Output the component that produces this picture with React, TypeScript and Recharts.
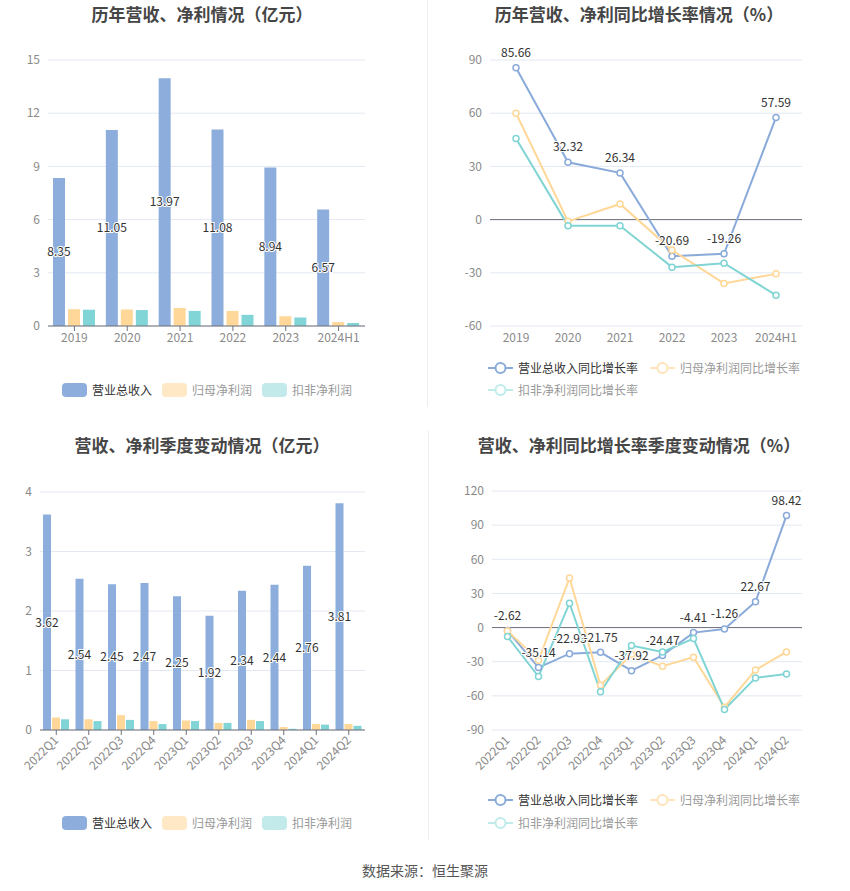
import React from 'react';
import { BarChart, Bar, LineChart, Line, XAxis, YAxis, CartesianGrid, LabelList, ReferenceLine } from 'recharts';

const years = ['2019', '2020', '2021', '2022', '2023', '2024H1'];
const yearRevenue = [8.35, 11.05, 13.97, 11.08, 8.94, 6.57];
const yearNetProfit = [0.95, 0.93, 1.02, 0.85, 0.55, 0.22];
const yearDeducted = [0.92, 0.9, 0.85, 0.63, 0.48, 0.17];
const yearRevenueGrowth = [85.66, 32.32, 26.34, -20.69, -19.26, 57.59];
const yearNetGrowth = [60.0, -1.0, 8.8, -17.2, -36.0, -30.6];
const yearDeductedGrowth = [45.7, -3.4, -3.4, -26.8, -24.6, -42.6];

const quarters = ['2022Q1', '2022Q2', '2022Q3', '2022Q4', '2023Q1', '2023Q2', '2023Q3', '2023Q4', '2024Q1', '2024Q2'];
const qRevenue = [3.62, 2.54, 2.45, 2.47, 2.25, 1.92, 2.34, 2.44, 2.76, 3.81];
const qNetProfit = [0.21, 0.18, 0.25, 0.15, 0.16, 0.12, 0.17, 0.05, 0.1, 0.1];
const qDeducted = [0.18, 0.15, 0.17, 0.1, 0.15, 0.12, 0.15, 0.02, 0.09, 0.07];
const qRevenueGrowth = [-2.62, -35.14, -22.93, -21.75, -37.92, -24.47, -4.41, -1.26, 22.67, 98.42];
const qNetGrowth = [-3.0, -28.7, 43.6, -50.6, -23.7, -34.0, -26.0, -70.0, -37.2, -21.4];
const qDeductedGrowth = [-7.9, -43.0, 21.4, -56.5, -15.8, -21.4, -9.7, -72.0, -44.2, -40.7];

const yearTicks = [0, 3, 6, 9, 12, 15];
const yearGrowthTicks = [-60, -30, 0, 30, 60, 90];
const qTicks = [0, 1, 2, 3, 4];
const qGrowthTicks = [-90, -60, -30, 0, 30, 60, 90, 120];

const barLegendNames = ['营业总收入', '归母净利润', '扣非净利润'];
const lineLegendNames = ['营业总收入同比增长率', '归母净利润同比增长率', '扣非净利润同比增长率'];

const yearBarData = years.map((name, i) => ({ name, rev: yearRevenue[i], net: yearNetProfit[i], ded: yearDeducted[i] }));
const yearLineData = years.map((name, i) => ({ name, rev: yearRevenueGrowth[i], net: yearNetGrowth[i], ded: yearDeductedGrowth[i] }));
const qBarData = quarters.map((name, i) => ({ name, rev: qRevenue[i], net: qNetProfit[i], ded: qDeducted[i] }));
const qLineData = quarters.map((name, i) => ({ name, rev: qRevenueGrowth[i], net: qNetGrowth[i], ded: qDeductedGrowth[i] }));

const FONT = '"Noto Sans CJK SC", "Noto Sans", sans-serif';
const BLUE = '#8DAEDC';
const ORANGE = '#FFD899';
const TEAL = '#82D5D7';
const LBLUE = '#8AABDA';
const LORANGE = '#FFD797';
const LTEAL = '#80D4D4';
const GRID = '#E3E8F2';
const AXIS = '#6E7079';
const TICK = '#8a8a8a';

const tickStyle = { fill: TICK, fontSize: 12, fontFamily: FONT };

const BarValueLabel = (props: any) => {
  const { x, y, width, height, value } = props;
  return (
    <text x={x + width / 2} y={y + height / 2} dy="0.35em" textAnchor="middle" fontSize={12} fontFamily={FONT}
      fill="#333" stroke="#fff" strokeWidth={2} paintOrder="stroke">{Number(value).toFixed(2)}</text>
  );
};

const LineValueLabel = (props: any) => {
  const { x, y, value } = props;
  return (
    <text x={x} y={y - 15} dy="0.35em" textAnchor="middle" fontSize={12} fontFamily={FONT}
      fill="#333" stroke="#fff" strokeWidth={2} paintOrder="stroke">{Number(value).toFixed(2)}</text>
  );
};

const RotTick = (props: any) => {
  const { x, y, payload } = props;
  return (
    <text x={x} y={y} dy="0.35em" textAnchor="end" fontSize={12} fontFamily={FONT} fill={TICK}
      transform={`rotate(-45 ${x} ${y})`}>{payload.value}</text>
  );
};

const Title = ({ text, cx, top }: { text: string; cx: number; top: number }) => (
  <div style={{ position: 'absolute', left: cx - 200, width: 400, top, textAlign: 'center', fontFamily: FONT,
    fontSize: 17, fontWeight: 700, color: '#464646', lineHeight: '24px', whiteSpace: 'nowrap' }}>{text}</div>
);

const BarLegend = ({ top }: { top: number }) => {
  const icons = [BLUE, '#FFE8C6', '#C2EAEB'];
  const colors = ['#333', '#999', '#999'];
  const xs = [62, 162, 262];
  return (
    <>
      {barLegendNames.map((n, i) => (
        <div key={n} style={{ position: 'absolute', left: xs[i], top: top - 7, height: 14, display: 'flex', alignItems: 'center' }}>
          <div style={{ width: 25, height: 14, borderRadius: 4, background: icons[i] }} />
          <span style={{ marginLeft: 5, fontSize: 12, fontFamily: FONT, color: colors[i], lineHeight: '14px', whiteSpace: 'nowrap' }}>{n}</span>
        </div>
      ))}
    </>
  );
};

const LineIcon = ({ color }: { color: string }) => (
  <svg width={25} height={14} style={{ display: 'block' }}>
    <line x1={0} y1={7} x2={25} y2={7} stroke={color} strokeWidth={2} />
    <circle cx={12.5} cy={7} r={5} fill="#fff" stroke={color} strokeWidth={2} />
  </svg>
);

const LineLegend = ({ left, top1, top2 }: { left: number; top1: number; top2: number }) => {
  const icons = [LBLUE, '#FFE3B9', '#BFEBEB'];
  const colors = ['#333', '#999', '#999'];
  const pos = [
    { x: left, y: top1 },
    { x: left + 162, y: top1 },
    { x: left, y: top2 },
  ];
  return (
    <>
      {lineLegendNames.map((n, i) => (
        <div key={n} style={{ position: 'absolute', left: pos[i].x, top: pos[i].y - 7, height: 14, display: 'flex', alignItems: 'center' }}>
          <LineIcon color={icons[i]} />
          <span style={{ marginLeft: 5, fontSize: 12, fontFamily: FONT, color: colors[i], lineHeight: '14px', whiteSpace: 'nowrap' }}>{n}</span>
        </div>
      ))}
    </>
  );
};

const dotStyle = (color: string) => ({ r: 3, fill: '#fff', stroke: color, strokeWidth: 1.5 });

export default function App() {
  return (
    <div style={{ position: 'absolute', left: 0, top: 0, width: 850, height: 891, background: '#fff', overflow: 'hidden' }}>
      {/* dividers */}
      <div style={{ position: 'absolute', left: 427, top: 0, width: 1, height: 407, background: '#EEEEEE' }} />
      <div style={{ position: 'absolute', left: 428, top: 430, width: 1, height: 410, background: '#EEEEEE' }} />

      {/* Chart 1 */}
      <Title text="历年营收、净利情况（亿元）" cx={202} top={2} />
      <div style={{ position: 'absolute', left: 0, top: 0 }}>
        <BarChart width={420} height={410} data={yearBarData} margin={{ top: 60, right: 55, left: 0, bottom: 54 }} barSize={12} barGap={3}>
          <CartesianGrid vertical={false} stroke={GRID} />
          <XAxis dataKey="name" height={30} axisLine={{ stroke: AXIS }} tickLine={{ stroke: AXIS }} tickSize={5} tick={tickStyle} interval={0} />
          <YAxis width={48} domain={[0, 15]} ticks={yearTicks} axisLine={false} tickLine={false} tickSize={0} tickMargin={8} tick={tickStyle} />
          <Bar dataKey="rev" fill={BLUE} isAnimationActive={false}>
            <LabelList dataKey="rev" content={BarValueLabel} />
          </Bar>
          <Bar dataKey="net" fill={ORANGE} isAnimationActive={false} />
          <Bar dataKey="ded" fill={TEAL} isAnimationActive={false} />
        </BarChart>
      </div>
      <BarLegend top={390} />

      {/* Chart 2 */}
      <Title text="历年营收、净利同比增长率情况（%）" cx={639} top={2} />
      <div style={{ position: 'absolute', left: 425, top: 0 }}>
        <LineChart width={425} height={410} data={yearLineData} margin={{ top: 60, right: 48, left: 0, bottom: 54 }}>
          <CartesianGrid vertical={false} stroke={GRID} />
          <XAxis dataKey="name" height={30} axisLine={false} tickLine={false} tickSize={5} tick={tickStyle} interval={0} padding={{ left: 26, right: 26 }} />
          <YAxis width={65} domain={[-60, 90]} ticks={yearGrowthTicks} axisLine={false} tickLine={false} tickSize={0} tickMargin={8} tick={tickStyle} />
          <ReferenceLine y={0} stroke={AXIS} strokeWidth={1} />
          <Line dataKey="rev" stroke={LBLUE} strokeWidth={2} dot={dotStyle(LBLUE)} isAnimationActive={false}>
            <LabelList dataKey="rev" content={LineValueLabel} />
          </Line>
          <Line dataKey="net" stroke={LORANGE} strokeWidth={2} dot={dotStyle(LORANGE)} isAnimationActive={false} />
          <Line dataKey="ded" stroke={LTEAL} strokeWidth={2} dot={dotStyle(LTEAL)} isAnimationActive={false} />
        </LineChart>
      </div>
      <LineLegend left={488} top1={368} top2={390} />

      {/* Chart 3 */}
      <Title text="营收、净利季度变动情况（亿元）" cx={202} top={433} />
      <div style={{ position: 'absolute', left: 0, top: 420 }}>
        <BarChart width={420} height={420} data={qBarData} margin={{ top: 72, right: 55, left: 0, bottom: 60 }} barSize={8} barGap={1}>
          <CartesianGrid vertical={false} stroke={GRID} />
          <XAxis dataKey="name" height={50} axisLine={{ stroke: AXIS }} tickLine={{ stroke: AXIS }} tickSize={5} tickMargin={3} tick={RotTick} interval={0} />
          <YAxis width={40} domain={[0, 4]} ticks={qTicks} axisLine={false} tickLine={false} tickSize={0} tickMargin={8} tick={tickStyle} />
          <Bar dataKey="rev" fill={BLUE} isAnimationActive={false}>
            <LabelList dataKey="rev" content={BarValueLabel} />
          </Bar>
          <Bar dataKey="net" fill={ORANGE} isAnimationActive={false} />
          <Bar dataKey="ded" fill={TEAL} isAnimationActive={false} />
        </BarChart>
      </div>
      <BarLegend top={823} />

      {/* Chart 4 */}
      <Title text="营收、净利同比增长率季度变动情况（%）" cx={639} top={433} />
      <div style={{ position: 'absolute', left: 425, top: 420 }}>
        <LineChart width={425} height={420} data={qLineData} margin={{ top: 71, right: 48, left: 0, bottom: 60 }}>
          <CartesianGrid vertical={false} stroke={GRID} />
          <XAxis dataKey="name" height={50} axisLine={false} tickLine={false} tickSize={5} tickMargin={3} tick={RotTick} interval={0} padding={{ left: 15.5, right: 15.5 }} />
          <YAxis width={67} domain={[-90, 120]} ticks={qGrowthTicks} axisLine={false} tickLine={false} tickSize={0} tickMargin={8} tick={tickStyle} />
          <ReferenceLine y={0} stroke={AXIS} strokeWidth={1} />
          <Line dataKey="rev" stroke={LBLUE} strokeWidth={2} dot={dotStyle(LBLUE)} isAnimationActive={false}>
            <LabelList dataKey="rev" content={LineValueLabel} />
          </Line>
          <Line dataKey="net" stroke={LORANGE} strokeWidth={2} dot={dotStyle(LORANGE)} isAnimationActive={false} />
          <Line dataKey="ded" stroke={LTEAL} strokeWidth={2} dot={dotStyle(LTEAL)} isAnimationActive={false} />
        </LineChart>
      </div>
      <LineLegend left={488} top1={800} top2={823} />

      <div style={{ position: 'absolute', left: 0, width: 850, top: 861, textAlign: 'center', fontFamily: FONT, fontSize: 14, color: '#555', lineHeight: '18px' }}>数据来源：恒生聚源</div>
    </div>
  );
}
